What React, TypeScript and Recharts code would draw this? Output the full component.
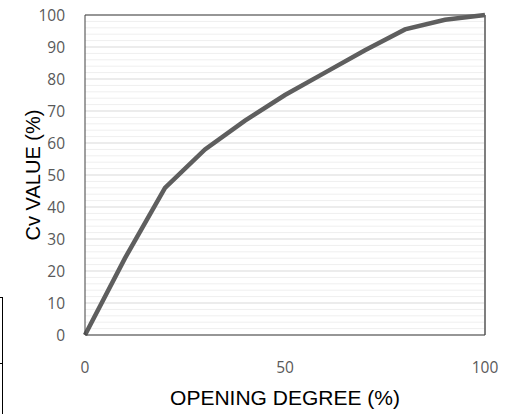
import React from "react";
import { LineChart, Line, XAxis, YAxis, CartesianGrid, ReferenceLine, Label } from "recharts";

const openingDegree = [0, 10, 20, 30, 40, 50, 60, 70, 80, 90, 100];
const cvValue = [0, 24, 46, 58, 67, 75, 82, 89, 95.5, 98.5, 100];
const xTicks = [0, 50, 100];
const yTicks = [0, 10, 20, 30, 40, 50, 60, 70, 80, 90, 100];
const minorY = [2, 4, 6, 8, 12, 14, 16, 18, 22, 24, 26, 28, 32, 34, 36, 38, 42, 44, 46, 48, 52, 54, 56, 58, 62, 64, 66, 68, 72, 74, 76, 78, 82, 84, 86, 88, 92, 94, 96, 98];

const data = openingDegree.map((x, i) => ({ x, y: cvValue[i] }));

const tickStyle = { fill: "#595959", fontSize: 15.5, fontFamily: "Open Sans" };

export default function App() {
  return (
    <div style={{ position: "absolute", left: 0, top: 0, width: 510, height: 414, background: "#fff" }}>
      <LineChart width={510} height={414} data={data} margin={{ top: 15, right: 25, bottom: 0, left: 0 }}>
        {minorY.map((v) => (
          <ReferenceLine key={"m" + v} y={v} stroke="#efefef" strokeWidth={1} />
        ))}
        <CartesianGrid vertical={false} stroke="#d9d9d9" strokeDasharray="" />
        <XAxis
          type="number"
          dataKey="x"
          domain={[0, 100]}
          ticks={xTicks}
          height={79}
          tickLine={false}
          tickSize={0}
          tickMargin={27}
          axisLine={{ stroke: "#404040", strokeWidth: 1 }}
          tick={tickStyle}
        >
          <Label
            value="OPENING DEGREE (%)"
            position="insideBottom"
            offset={9}
            style={{ fill: "#000", fontSize: 21, fontFamily: "Liberation Sans" }}
          />
        </XAxis>
        <YAxis
          type="number"
          domain={[0, 100]}
          ticks={yTicks}
          width={85}
          tickLine={false}
          tickSize={0}
          tickMargin={20}
          axisLine={{ stroke: "#404040", strokeWidth: 1 }}
          tick={tickStyle}
        >
          <Label
            value="Cv VALUE (%)"
            angle={-90}
            position="insideLeft"
            offset={0}
            dx={33}
            style={{ fill: "#000", fontSize: 20, fontFamily: "Liberation Sans", textAnchor: "middle" }}
          />
        </YAxis>
        <ReferenceLine y={100} stroke="#404040" strokeWidth={1} />
        <ReferenceLine x={100} stroke="#7f7f7f" strokeWidth={2} />
        <Line
          type="linear"
          dataKey="y"
          stroke="#5e5e5e"
          strokeWidth={4.5}
          dot={false}
          isAnimationActive={false}
        />
      </LineChart>
      <div style={{ position: "absolute", left: 2, top: 297, width: 1, height: 117, background: "#000" }} />
      <div style={{ position: "absolute", left: 0, top: 297, width: 3, height: 1, background: "#000" }} />
      <div style={{ position: "absolute", left: 0, top: 363, width: 3, height: 1, background: "#000" }} />
    </div>
  );
}
